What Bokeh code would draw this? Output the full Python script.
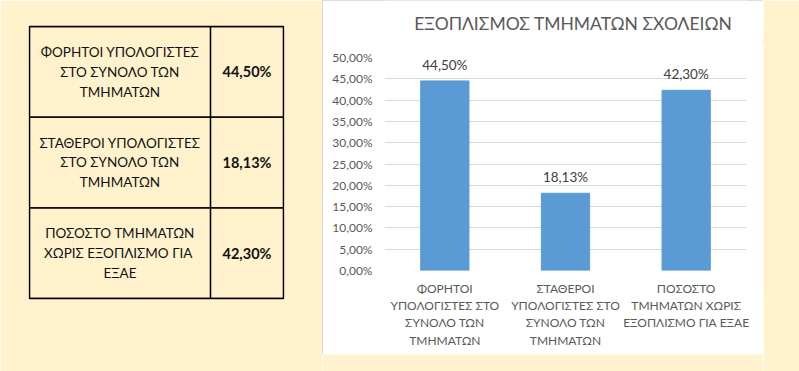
from bokeh.plotting import figure
from bokeh.models import Range1d, FactorRange, FixedTicker, ColumnDataSource
from bokeh.layouts import row, column
from bokeh.core.properties import value
from bokeh.embed import file_html
from bokeh.resources import INLINE

# ---------------- data ----------------
row_ids = ["r1", "r2", "r3"]
axis_labels = [
    "ΦΟΡΗΤΟΙ\nΥΠΟΛΟΓΙΣΤΕΣ ΣΤΟ\nΣΥΝΟΛΟ ΤΩΝ\nΤΜΗΜΑΤΩΝ",
    "ΣΤΑΘΕΡΟΙ\nΥΠΟΛΟΓΙΣΤΕΣ ΣΤΟ\nΣΥΝΟΛΟ ΤΩΝ\nΤΜΗΜΑΤΩΝ",
    "ΠΟΣΟΣΤΟ\nΤΜΗΜΑΤΩΝ ΧΩΡΙΣ\nΕΞΟΠΛΙΣΜΟ ΓΙΑ ΕΞΑΕ",
]
table_labels = [
    "ΦΟΡΗΤΟΙ ΥΠΟΛΟΓΙΣΤΕΣ\nΣΤΟ ΣΥΝΟΛΟ ΤΩΝ\nΤΜΗΜΑΤΩΝ",
    "ΣΤΑΘΕΡΟΙ ΥΠΟΛΟΓΙΣΤΕΣ\nΣΤΟ ΣΥΝΟΛΟ ΤΩΝ\nΤΜΗΜΑΤΩΝ",
    "ΠΟΣΟΣΤΟ ΤΜΗΜΑΤΩΝ\nΧΩΡΙΣ  ΕΞΟΠΛΙΣΜΟ ΓΙΑ\nΕΞΑΕ",
]
values = [0.4450, 0.1813, 0.4230]
value_labels = ["44,50%", "18,13%", "42,30%"]
y_ticks = [0.0, 0.05, 0.10, 0.15, 0.20, 0.25, 0.30, 0.35, 0.40, 0.45, 0.50]
y_tick_labels = ["0,00%", "5,00%", "10,00%", "15,00%", "20,00%", "25,00%",
                 "30,00%", "35,00%", "40,00%", "45,00%", "50,00%"]
title_text = "ΕΞΟΠΛΙΣΜΟΣ ΤΜΗΜΑΤΩΝ ΣΧΟΛΕΙΩΝ"

CREAM = "#FFF2CC"
FONT = "Lato"


def blank(w, h, fill, xr=(0, 1), yr=(0, 1)):
    f = figure(width=w, height=h, output_backend="svg", toolbar_location=None,
               min_border=0, x_range=Range1d(*xr), y_range=Range1d(*yr))
    f.axis.visible = False
    f.grid.visible = False
    f.outline_line_color = None
    f.background_fill_color = fill
    f.border_fill_color = fill
    return f


# ---------------- table (left) ----------------
LW, VW = 181, 73  # column widths (layout)
t = figure(width=322, height=371, output_backend="svg", toolbar_location=None,
           x_range=Range1d(0, LW + VW), y_range=FactorRange(factors=list(reversed(row_ids))),
           min_border_left=29, min_border_right=39, min_border_top=26, min_border_bottom=73)
t.axis.visible = False
t.grid.visible = False
t.background_fill_color = CREAM
t.border_fill_color = CREAM
t.outline_line_color = "black"
t.outline_line_width = 1.3

tsrc = ColumnDataSource(dict(row=row_ids, label=table_labels, val=value_labels))
t.rect(x=LW / 2, y="row", width=LW, height=1, source=tsrc,
       fill_color=None, line_color="black", line_width=1.3)
t.rect(x=LW + VW / 2, y="row", width=VW, height=1, source=tsrc,
       fill_color=None, line_color="black", line_width=1.3)
t.text(x=LW / 2, y="row", text="label", source=tsrc, text_align="center",
       text_baseline="middle", text_font=value(FONT), text_font_size="13.5px",
       text_line_height=1.23, text_color="#111111")
t.text(x=LW + VW / 2, y="row", text="val", source=tsrc, text_align="center",
       text_baseline="middle", text_font=value(FONT), text_font_size="14.5px",
       text_font_style="bold", text_color="#111111")

# ---------------- chart title strip ----------------
TH = 40
tt = blank(441, TH, "white", xr=(0, 441), yr=(TH, 0))
tt.text(x=[230], y=[23], text=[title_text], text_align="center", text_baseline="middle",
        text_font=value(FONT), text_font_size="17.5px", text_color="#595959")

# ---------------- chart (right) ----------------
p = figure(width=441, height=354 - TH, output_backend="svg", toolbar_location=None,
           x_range=FactorRange(factors=axis_labels), y_range=Range1d(0, 0.5),
           min_border_left=62, min_border_right=17, min_border_top=57 - TH, min_border_bottom=84)
p.background_fill_color = "white"
p.border_fill_color = "white"
p.outline_line_color = None

src = ColumnDataSource(dict(cat=axis_labels, val=values, lab=value_labels))
p.vbar(x="cat", top="val", width=0.4, source=src, color="#5B9BD5")
p.text(x="cat", y="val", text="lab", source=src, text_align="center",
       text_baseline="bottom", y_offset=-8, text_font=value(FONT),
       text_font_size="13.5px", text_color="#404040")

p.xgrid.visible = False
p.ygrid.ticker = FixedTicker(ticks=y_ticks)
p.ygrid.grid_line_color = "#D9D9D9"
p.ygrid.grid_line_width = 1

p.yaxis.ticker = FixedTicker(ticks=y_ticks)
p.yaxis.major_label_overrides = {tv: tl for tv, tl in zip(y_ticks, y_tick_labels)}

for ax in (p.xaxis, p.yaxis):
    ax.axis_line_color = None
    ax.major_tick_line_color = None
    ax.minor_tick_line_color = None
    ax.major_tick_out = 0
    ax.major_tick_in = 0
    ax.minor_tick_out = 0
    ax.major_label_text_font = FONT
    ax.major_label_text_font_size = "12px"
    ax.major_label_text_color = "#595959"
p.yaxis.major_label_standoff = 12
p.xaxis.major_label_standoff = 10
p.xaxis.major_label_text_line_height = 1.16

box = column(tt, p, spacing=0,
             styles={"outline": "1px solid #D0D0D0", "outline-offset": "-1px"})
chart = column(box, blank(441, 17, CREAM), spacing=0)
layout = row(t, chart, blank(36, 371, CREAM), spacing=0)

open("out.html", "w").write(file_html(layout, INLINE))
